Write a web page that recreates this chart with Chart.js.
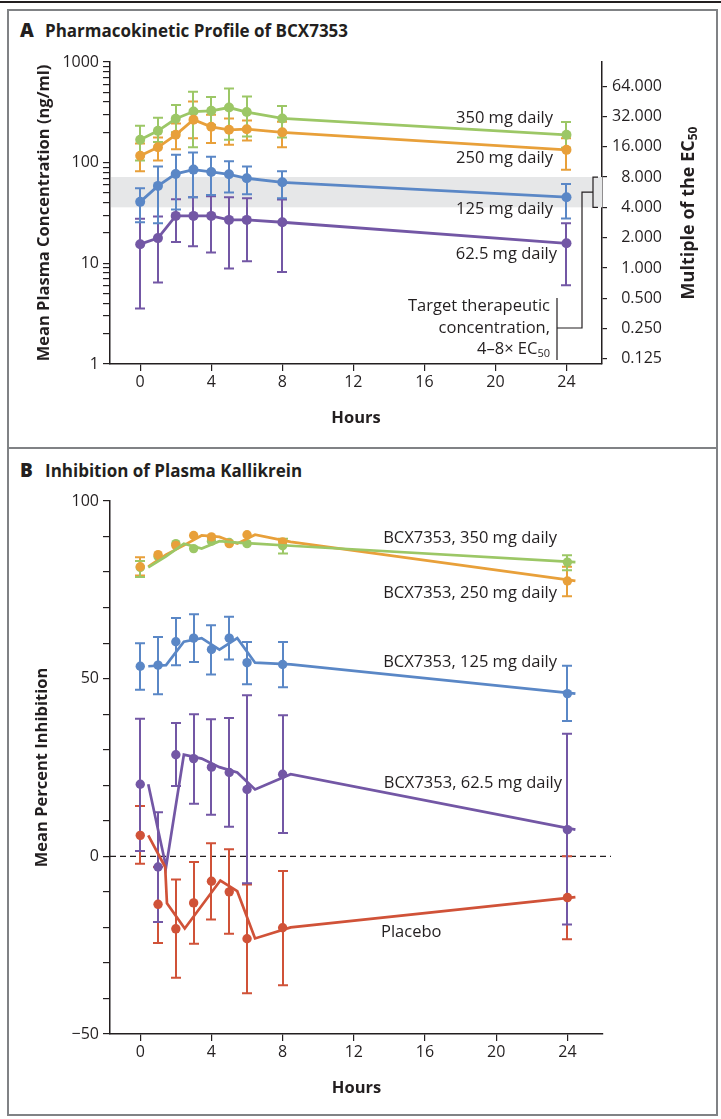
<!DOCTYPE html>
<html><head><meta charset="utf-8">
<script src="https://cdn.jsdelivr.net/npm/chart.js@4"></script>
<style>
html,body{margin:0;padding:0;background:#fff;}
body{width:721px;height:1119px;position:relative;overflow:hidden;font-family:'Open Sans',sans-serif;color:#231f20;}
#topline{position:absolute;left:0;top:1px;width:721px;height:2px;background:#231f20;}
#frame{position:absolute;left:7px;top:9px;width:707px;height:1103px;border:2px solid #808285;}
#sep{position:absolute;left:7px;top:447px;width:711px;height:2px;background:#808285;}
.ptitle{position:absolute;font-weight:bold;font-size:17px;white-space:nowrap;line-height:22px;}
.ptitle b{font-size:19px;display:inline-block;width:25px;}
canvas{position:absolute;left:0;}
</style></head>
<body>
<div id="topline"></div><div id="frame"></div><div id="sep"></div>
<div class="ptitle" style="left:20px;top:19px;"><b>A</b>Pharmacokinetic Profile of BCX7353</div>
<div class="ptitle" style="left:20px;top:459px;"><b>B</b>Inhibition of Plasma Kallikrein</div>
<canvas id="cA" width="721" height="400" style="top:40px"></canvas>
<canvas id="cB" width="721" height="630" style="top:480px"></canvas>
<script>
// ---------- data ----------
const hours = [0, 1, 2, 3, 4, 5, 6, 8, 24];
const xTicks = [0, 4, 8, 12, 16, 20, 24];
const concTicks = [1,2,3,4,5,6,7,8,9,10,20,30,40,50,60,70,80,90,100,200,300,400,500,600,700,800,900,1000];
const concLabels = [1, 10, 100, 1000];
const multipleTicks = [0.125, 0.25, 0.5, 1, 2, 4, 8, 16, 32, 64];
const ec50 = 9.0;               // ng/ml, 1x EC50
const targetRange = [4, 8];     // multiples of EC50

// Panel A: mean plasma concentration (ng/ml)
const pk350 = [169, 207, 273, 322, 327, 353, 318, 275, 189];
const pk350Lo = [105, 160, 200, 142, 237, 169, 182, 178, 141];
const pk350Hi = [232, 279, 375, 505, 450, 545, 454, 366, 253];
const pk250 = [117, 142, 189, 267, 227, 212, 215, 200, 134];
const pk250Lo = [82, 105, 136, 175, 157, 151, 166, 142, 85];
const pk250Hi = [155, 178, 245, 404, 299, 275, 262, 255, 175];
const pk125 = [40.8, 58.8, 77.3, 85.3, 80.9, 76.7, 70, 63.8, 45.4];
const pk125Lo = [25.6, 25, 34.3, 45.4, 47.6, 50.5, 48.5, 44.4, 27.9];
const pk125Hi = [55.7, 91.8, 120, 126, 114.6, 103, 91.8, 82, 61.5];
const pk62 = [15.5, 17.8, 29.6, 29.6, 29.6, 27, 27, 25.6, 15.8];
const pk62Lo = [3.56, 6.44, 16.3, 14.8, 12.8, 8.9, 10.5, 8.2, 6.05];
const pk62Hi = [27.7, 29.2, 43.4, 45.4, 46.4, 45.4, 44.4, 43, 25];

// Panel B: mean percent inhibition (null = bar hidden behind the marker)
const inhTicks = [-50,-40,-30,-20,-10,0,10,20,30,40,50,60,70,80,90,100];
const inh350 = [81.3, 84.4, 88, 86.6, 88.7, 88.3, 88, 87.4, 82.8];
const inh350Lo = [78.6, null, null, null, null, null, null, 85.2, 80.5];
const inh350Hi = [83.1, null, null, null, null, null, null, 89.4, 84.7];
const inh250 = [81.5, 84.9, 87.5, 90.3, 89.9, 88, 90.5, 88.5, 77.5];
const inh250Lo = [79, null, null, null, null, null, null, null, 73.2];
const inh250Hi = [84.2, null, null, null, null, null, null, null, 81.5];
const inh125 = [53.5, 53.8, 60.4, 61.4, 58.2, 61.4, 54.5, 54, 45.8];
const inh125Lo = [46.9, 45.6, 53.8, 54.7, 51.2, 55.4, 48.4, 47.6, 38.1];
const inh125Hi = [60, 61.7, 67.1, 68.1, 65, 67.4, 60.3, 60.3, 53.6];
const inh62 = [20.3, -3, 28.6, 27.5, 25.1, 23.6, 18.8, 23.1, 7.5];
const inh62Lo = [1.5, -18.5, 19.8, 14.8, 11.7, 8.3, -7.6, 6.6, -19.2];
const inh62Hi = [38.7, 12.4, 37.5, 40, 38.6, 38.9, 45.3, 39.7, 34.5];
const placebo = [5.9, -13.5, -20.4, -13.1, -7, -10, -23.2, -20.1, -11.6];
const placeboLo = [-2.1, -24.4, -34.2, -24.6, -17.8, -21.8, -38.5, -36.3, -23.3];
const placeboHi = [14.2, -3, -6.5, -1.6, 3.7, 2, -7.9, -4.1, 0];
// connecting lines as traced in panel B (drawn slightly right of the markers)
const lineHoursB = [0.45, 1.45, 2.45, 3.45, 4.45, 5.45, 6.45, 8.45, 24.45];
const placeboLineHours = [0.45, 1.4, 1.5, 2.5, 4.5, 5.45, 6.45, 8.45, 24.45];
const placeboLine = [5.9, -3, -13.2, -20.3, -6.8, -9.8, -23.1, -20, -11.5];

// ---------- styles ----------
const INK = '#231f20';
const C = {g:'#9cc766', o:'#e8a03a', b:'#5a87c6', p:'#7357a5', r:'#d05238'};
const FONT = "'Open Sans', sans-serif";
const pts = (xs, ys) => ys.map((v, i) => ({x: xs[i], y: v}));

const errorBars = {
  id: 'errorBars',
  beforeDatasetsDraw(chart) {
    const {ctx} = chart;
    chart.data.datasets.forEach((ds) => {
      if (!ds.errLo) return;
      const xs = chart.scales.x, ys = chart.scales[ds.yAxisID || 'y'];
      ctx.save();
      ctx.strokeStyle = ds.borderColor; ctx.lineWidth = 2;
      ds.data.forEach((p, i) => {
        if (ds.errLo[i] == null || ds.errHi[i] == null) return;
        const px = Math.round(xs.getPixelForValue(p.x));
        const yl = ys.getPixelForValue(ds.errLo[i]), yh = ys.getPixelForValue(ds.errHi[i]);
        ctx.beginPath();
        ctx.moveTo(px, yl); ctx.lineTo(px, yh);
        ctx.moveTo(px - 5, yl); ctx.lineTo(px + 5, yl);
        ctx.moveTo(px - 5, yh); ctx.lineTo(px + 5, yh);
        ctx.stroke();
      });
      ctx.restore();
    });
  }
};

function sub(ctx, x, y, main, s, size, weight, align) {
  ctx.font = `${weight} ${size}px ${FONT}`;
  const w1 = ctx.measureText(main).width;
  ctx.font = `${weight} ${Math.round(size*0.68)}px ${FONT}`;
  const w2 = ctx.measureText(s).width;
  let x0 = align === 'right' ? x - w1 - w2 : (align === 'center' ? x - (w1 + w2)/2 : x);
  ctx.textAlign = 'left';
  ctx.font = `${weight} ${size}px ${FONT}`;
  ctx.fillText(main, x0, y);
  ctx.font = `${weight} ${Math.round(size*0.68)}px ${FONT}`;
  ctx.fillText(s, x0 + w1, y + size*0.28);
}

const bandPlugin = {
  id: 'band',
  beforeDatasetsDraw(chart) {
    const {ctx, chartArea: a} = chart;
    const y2 = chart.scales.y2;
    const top = y2.getPixelForValue(targetRange[1]), bot = y2.getPixelForValue(targetRange[0]);
    ctx.save(); ctx.fillStyle = '#e6e7e8';
    ctx.fillRect(a.left + 1, top, a.right - a.left - 1, bot - top);
    ctx.restore();
  },
  afterDraw(chart) {
    const {ctx} = chart;
    const y2 = chart.scales.y2;
    const off = 40;
    ctx.save();
    ctx.fillStyle = INK; ctx.textBaseline = 'middle';
    ctx.font = `16.5px ${FONT}`; ctx.textAlign = 'right';
    [['350 mg daily', 553, 118], ['250 mg daily', 553, 158], ['125 mg daily', 553, 209], ['62.5 mg daily', 557, 254],
     ['Target therapeutic', 550, 306], ['concentration,', 550, 328]].forEach(([t, x, y]) => ctx.fillText(t, x, y - off));
    sub(ctx, 550, 349 - off, '4–8× EC', '50', 16.5, 'normal', 'right');
    // bracket
    const yTop = y2.getPixelForValue(targetRange[1]), yBot = y2.getPixelForValue(targetRange[0]);
    ctx.strokeStyle = INK; ctx.lineWidth = 1.2;
    ctx.beginPath();
    ctx.moveTo(557, 298 - off); ctx.lineTo(557, 360 - off);
    ctx.moveTo(557, 328 - off); ctx.lineTo(582, 328 - off); ctx.lineTo(582, (yTop + yBot) / 2); ctx.lineTo(593, (yTop + yBot) / 2);
    ctx.moveTo(598, yTop); ctx.lineTo(593, yTop); ctx.lineTo(593, yBot); ctx.lineTo(598, yBot);
    ctx.stroke();
    // right axis title
    ctx.translate(689, 213 - off); ctx.rotate(-Math.PI / 2);
    sub(ctx, 0, 0, 'Multiple of the EC', '50', 18, 'bold', 'center');
    ctx.restore();
  }
};

const labelsB = {
  id: 'labelsB',
  beforeDatasetsDraw(chart) {
    const {ctx, chartArea: a} = chart;
    const y0 = chart.scales.y.getPixelForValue(0);
    ctx.save(); ctx.strokeStyle = INK; ctx.lineWidth = 1.2; ctx.setLineDash([6, 4]);
    ctx.beginPath(); ctx.moveTo(a.left, y0); ctx.lineTo(611, y0); ctx.stroke(); ctx.restore();
  },
  afterDraw(chart) {
    const {ctx} = chart; const off = 480;
    ctx.save(); ctx.fillStyle = INK; ctx.textBaseline = 'middle'; ctx.font = `16.5px ${FONT}`;
    ctx.textAlign = 'right';
    [['BCX7353, 350 mg daily', 557, 538], ['BCX7353, 250 mg daily', 557, 593], ['BCX7353, 125 mg daily', 557, 662],
     ['BCX7353, 62.5 mg daily', 562, 783]].forEach(([t, x, y]) => ctx.fillText(t, x, y - off));
    ctx.textAlign = 'left'; ctx.fillText('Placebo', 381, 932 - off);
    ctx.restore();
  }
};

const tickFont = {family: FONT, size: 16};
const titleFont = {family: FONT, size: 16.5, weight: 'bold'};
const axisCommon = {
  grid: {drawOnChartArea: false, tickLength: 7, color: INK, lineWidth: 1.2},
  border: {color: INK, width: 1.5},
};
const xScale = {
  type: 'linear', min: -1.7, max: 26, ...axisCommon,
  afterBuildTicks: s => { s.ticks = xTicks.map(v => ({value: v})); },
  afterFit: s => { s.height = 76; },
  ticks: {font: tickFont, color: INK, padding: 2, maxRotation: 0, autoSkip: false},
  title: {display: true, text: 'Hours', font: titleFont, color: INK, padding: {top: 0, bottom: 12}}
};
const common = {
  responsive: false, animation: false, events: [],
  plugins: {legend: {display: false}, tooltip: {enabled: false}},
  elements: {point: {radius: 5, hoverRadius: 5, borderWidth: 0}, line: {borderWidth: 2.8, tension: 0}},
};

function seriesA(vals, lo, hi, col) {
  return {data: pts(hours, vals), errLo: lo, errHi: hi, borderColor: col, backgroundColor: col,
          pointBackgroundColor: col, showLine: true, yAxisID: 'y'};
}

new Chart(document.getElementById('cA'), {
  type: 'scatter',
  data: {datasets: [
    seriesA(pk62, pk62Lo, pk62Hi, C.p),
    seriesA(pk125, pk125Lo, pk125Hi, C.b),
    seriesA(pk250, pk250Lo, pk250Hi, C.o),
    seriesA(pk350, pk350Lo, pk350Hi, C.g),
  ]},
  options: {...common,
    layout: {padding: {left: 0, right: 59, top: 22, bottom: 0}},
    scales: {
      x: xScale,
      y: {type: 'logarithmic', position: 'left', min: 1, max: 1000, ...axisCommon,
        afterBuildTicks: s => { s.ticks = concTicks.map(v => ({value: v})); },
        afterFit: s => { s.width = 110; },
        ticks: {font: tickFont, color: INK, padding: 4, autoSkip: false,
                callback: v => concLabels.includes(v) ? String(v) : ''},
        title: {display: true, text: 'Mean Plasma Concentration (ng/ml)', font: titleFont, color: INK, padding: {top: 34, bottom: 0}}
      },
      y2: {type: 'logarithmic', position: 'right', min: 1 / ec50, max: 1000 / ec50, ...axisCommon,
        grid: {drawOnChartArea: false, tickLength: 5, color: INK, lineWidth: 1.2},
        afterBuildTicks: s => { s.ticks = multipleTicks.map(v => ({value: v})); },
        afterFit: s => { s.width = 60; },
        ticks: {font: tickFont, color: INK, padding: 3, autoSkip: false, crossAlign: 'far',
                callback: v => Number(v).toFixed(3)}
      }
    }
  },
  plugins: [bandPlugin, errorBars]
});

function pointsB(vals, lo, hi, col) {
  return {data: pts(hours, vals), errLo: lo, errHi: hi, borderColor: col, backgroundColor: col,
          pointBackgroundColor: col, showLine: false, pointRadius: 4.7};
}
function lineB(xs, vals, col) {
  return {data: pts(xs, vals), borderColor: col, backgroundColor: col, showLine: true, pointRadius: 0, borderWidth: 2.7};
}

new Chart(document.getElementById('cB'), {
  type: 'scatter',
  data: {datasets: [
    lineB(placeboLineHours, placeboLine, C.r),
    lineB(lineHoursB, inh62, C.p),
    lineB(lineHoursB, inh125, C.b),
    lineB(lineHoursB, inh350, C.g),
    lineB(lineHoursB, inh250, C.o),
    pointsB(placebo, placeboLo, placeboHi, C.r),
    pointsB(inh62, inh62Lo, inh62Hi, C.p),
    pointsB(inh125, inh125Lo, inh125Hi, C.b),
    pointsB(inh250, inh250Lo, inh250Hi, C.o),
    pointsB(inh350, inh350Lo, inh350Hi, C.g),
  ]},
  options: {...common,
    layout: {padding: {left: 0, right: 118, top: 21, bottom: 0}},
    scales: {
      x: xScale,
      y: {type: 'linear', min: -50, max: 100, ...axisCommon,
        afterBuildTicks: s => { s.ticks = inhTicks.map(v => ({value: v})); },
        afterFit: s => { s.width = 110; },
        ticks: {font: tickFont, color: INK, padding: 4, autoSkip: false,
                callback: v => v % 50 === 0 ? (v < 0 ? '\u2212' + Math.abs(v) : String(v)) : ''},
        title: {display: true, text: 'Mean Percent Inhibition', font: titleFont, color: INK, padding: {top: 32, bottom: 0}}
      }
    }
  },
  plugins: [labelsB, errorBars]
});
</script>
</body></html>
